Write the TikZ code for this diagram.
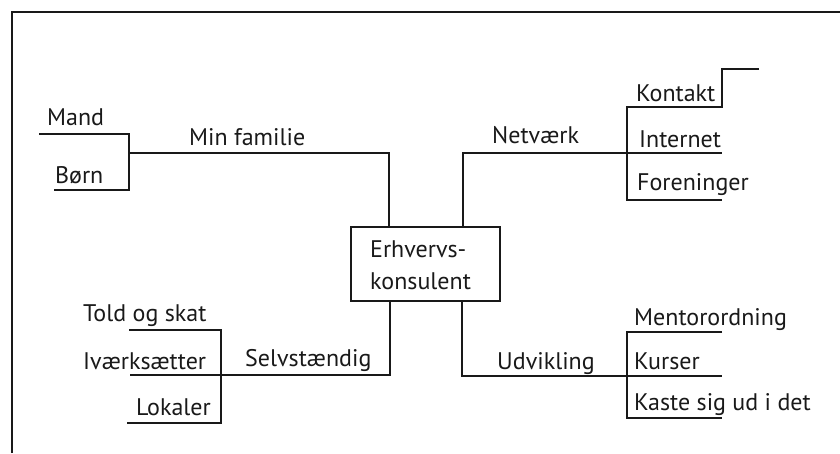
\documentclass[tikz,border=0pt]{standalone}
\usepackage{fontspec}
\setmainfont{PT Sans}
\begin{document}
\begin{tikzpicture}[x=1pt,y=-1pt,
  ink/.style={line width=2.1pt,draw=black!90,line cap=butt,line join=miter},
  lbl/.style={anchor=base west,inner sep=0pt,text=black!90,font=\fontsize{24}{32}\selectfont},
  boxnode/.style={draw=black!90,line width=2.1pt,minimum width=149pt,minimum height=74pt,inner sep=0pt}]
\useasboundingbox (0,0) rectangle (840,453);

% open frame: left edge and top edge
\coordinate (frameBL) at (12,453);
\coordinate (frameTL) at (12,12);
\coordinate (frameTR) at (840,12);
\draw[ink] (frameBL) -- (frameTL) -- (frameTR);

% centre box
\node[boxnode] (box) at (425.5,264) {};
\node[lbl] (erh) at (370,257) {Erhvervs-};
\node[lbl] (kons) at (370,289) {konsulent};

% ---- Min familie ----
\node[lbl] (fam) at (189,145) {Min familie};
\node[lbl] (mand) at (47,125) {Mand};
\node[lbl] (born) at (55,183) {Børn};
\coordinate (famJ) at (389,153);
\coordinate (famHub) at (129,153);
\coordinate (mandL) at (39,134);
\coordinate (mandR) at (129,134);
\coordinate (bornL) at (54,190);
\coordinate (bornR) at (129,190);
\draw[ink] (famJ |- box.north) -- (famJ) -- (famHub);
\draw[ink] (mandL) -- (mandR) -- (bornR) -- (bornL);

% ---- Netværk ----
\node[lbl] (net) at (492,143) {Netværk};
\node[lbl] (kontakt) at (636,101) {Kontakt};
\node[lbl] (internet) at (639,147) {Internet};
\node[lbl] (foren) at (637,190) {Foreninger};
\coordinate (netJ) at (463,153);
\coordinate (netHub) at (627,153);
\coordinate (kontL) at (627,107);
\coordinate (kontR) at (722,107);
\coordinate (kontUp) at (722,69);
\coordinate (kontEnd) at (759,69);
\coordinate (intR) at (722,153);
\coordinate (forL) at (627,200);
\coordinate (forR) at (722,200);
\draw[ink] (netJ |- box.north) -- (netJ) -- (netHub) -- (intR);
\draw[ink] (kontEnd) -- (kontUp) -- (kontR) -- (kontL) -- (forL) -- (forR);

% ---- Selvstændig ----
\node[lbl] (selv) at (245,366) {Selvstændig};
\node[lbl] (told) at (83,321) {Told og skat};
\node[lbl] (ivaerk) at (83,369) {Iværksætter};
\node[lbl] (lokal) at (136,415) {Lokaler};
\coordinate (selvJ) at (390,375);
\coordinate (selvHub) at (221,375);
\coordinate (ivL) at (130,375);
\coordinate (toldL) at (129,330);
\coordinate (toldR) at (221,330);
\coordinate (lokR) at (221,423);
\coordinate (lokL) at (127,423);
\draw[ink] (selvJ |- box.south) -- (selvJ) -- (selvHub) -- (ivL);
\draw[ink] (toldL) -- (toldR) -- (lokR) -- (lokL);

% ---- Udvikling ----
\node[lbl] (udv) at (497,369) {Udvikling};
\node[lbl] (mentor) at (634,325) {Mentorordning};
\node[lbl] (kurser) at (634,369) {Kurser};
\node[lbl] (kaste) at (634,410) {Kaste sig ud i det};
\coordinate (udvJ) at (462,376);
\coordinate (udvHub) at (627,376);
\coordinate (kurR) at (722,376);
\coordinate (menL) at (627,332);
\coordinate (menR) at (722,332);
\coordinate (kasL) at (627,418);
\coordinate (kasR) at (722,418);
\draw[ink] (udvJ |- box.south) -- (udvJ) -- (udvHub) -- (kurR);
\draw[ink] (menR) -- (menL) -- (kasL) -- (kasR);
\end{tikzpicture}
\end{document}
